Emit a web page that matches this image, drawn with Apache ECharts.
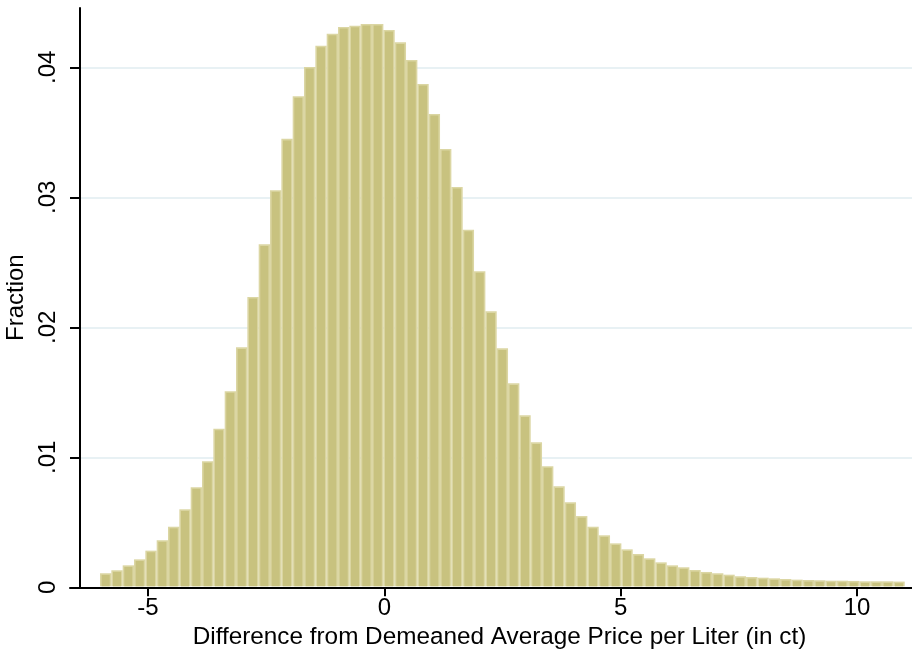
<!DOCTYPE html>
<html>
<head>
<meta charset="utf-8">
<title>Price difference histogram</title>
<script src="https://cdn.jsdelivr.net/npm/echarts@6/dist/echarts.min.js"></script>
<style>
  html, body { margin: 0; padding: 0; background: #ffffff; }
  #chart { width: 912px; height: 652px; }
</style>
</head>
<body>
<div id="chart"></div>
<script>
// Histogram bins: first bin's left edge and common bin width (in ct)
const binStart = -6.015;
const binWidth = 0.23976;

// Fraction of observations in each bin, left to right
const fractions = [
  0.00108, 0.00131, 0.00169, 0.00215, 0.00282, 0.00362, 0.00466, 0.00600, 0.00770, 0.00970,
  0.01220, 0.01508, 0.01846, 0.02233, 0.02638, 0.03054, 0.03450, 0.03777, 0.04002, 0.04166,
  0.04258, 0.04310, 0.04320, 0.04333, 0.04333, 0.04287, 0.04192, 0.04056, 0.03872, 0.03641,
  0.03372, 0.03079, 0.02751, 0.02431, 0.02123, 0.01838, 0.01569, 0.01323, 0.01115, 0.00931,
  0.00777, 0.00654, 0.00548, 0.00466, 0.00400, 0.00338, 0.00292, 0.00256, 0.00223, 0.00192,
  0.00169, 0.00154, 0.00133, 0.00118, 0.00108, 0.00097, 0.00085, 0.00079, 0.00074, 0.00069,
  0.00064, 0.00059, 0.00056, 0.00054, 0.00051, 0.00051, 0.00049, 0.00046, 0.00046, 0.00046,
  0.00044
];

// Axis ticks and labels
const xTicks = [-5, 0, 5, 10];
const yTicks = [0, 0.01, 0.02, 0.03, 0.04];
const yTickLabels = ['0', '.01', '.02', '.03', '.04'];

const xTitle = 'Difference from Demeaned Average Price per Liter (in ct)';
const yTitle = 'Fraction';

// [left edge, right edge, fraction] per bin
const binData = fractions.map((f, i) => [
  binStart + i * binWidth,
  binStart + (i + 1) * binWidth,
  f
]);

const FONT = '"Liberation Sans", Arial, Helvetica, sans-serif';
const BAR_FILL = '#c8c27f';
const BAR_EDGE = '#dbd6a3';
const INSET = 1.6;

const chart = echarts.init(document.getElementById('chart'), null, { renderer: 'canvas' });

chart.setOption({
  backgroundColor: '#ffffff',
  animation: false,
  grid: { left: 70, right: 0, top: 8, bottom: 64.7, containLabel: false, outerBoundsMode: 'none' },
  xAxis: {
    type: 'value',
    min: -6.650,
    max: 11.162,
    name: xTitle,
    nameLocation: 'middle',
    nameGap: 35,
    nameTextStyle: { fontFamily: FONT, fontSize: 24.3, color: '#000', lineHeight: 24, padding: [0, 0, 0, 17] },
    axisLine: { show: true, onZero: false, lineStyle: { color: '#000', width: 2 } },
    axisTick: { show: true, length: 9, customValues: xTicks, lineStyle: { color: '#000', width: 2 } },
    axisLabel: {
      customValues: xTicks,
      margin: 9,
      fontFamily: FONT,
      fontSize: 24,
      lineHeight: 24,
      color: '#000',
      formatter: v => String(v)
    },
    splitLine: { show: false }
  },
  yAxis: {
    type: 'value',
    min: 0,
    max: 0.04456,
    offset: -10,
    name: yTitle,
    nameLocation: 'middle',
    nameGap: 41,
    nameTextStyle: { fontFamily: FONT, fontSize: 24, color: '#000', lineHeight: 24 },
    axisLine: { show: true, onZero: false, lineStyle: { color: '#000', width: 2 } },
    axisTick: { show: true, length: 10, customValues: yTicks, lineStyle: { color: '#000', width: 2 } },
    axisLabel: {
      customValues: yTicks,
      rotate: 90,
      margin: 20,
      fontFamily: FONT,
      fontSize: 24,
      lineHeight: 24,
      color: '#000',
      formatter: v => {
        const i = yTicks.findIndex(t => Math.abs(t - v) < 1e-9);
        return i >= 0 ? yTickLabels[i] : '';
      }
    },
    splitLine: { show: true, showMinLine: false, lineStyle: { color: '#e8f1f4', width: 2 } }
  },
  series: [{
    type: 'custom',
    data: binData,
    encode: { x: [0, 1], y: 2 },
    renderItem: (params, api) => {
      const lo = api.value(0), hi = api.value(1), f = api.value(2);
      const topLeft = api.coord([lo, f]);
      const bottomRight = api.coord([hi, 0]);
      const x = topLeft[0];
      const y = topLeft[1];
      const w = bottomRight[0] - topLeft[0];
      const h = bottomRight[1] - topLeft[1] - 1;
      return {
        type: 'group',
        children: [
          { type: 'rect', shape: { x, y, width: w, height: h }, style: { fill: BAR_EDGE } },
          {
            type: 'rect',
            shape: { x: x + INSET, y: y + INSET, width: Math.max(0, w - 2 * INSET), height: Math.max(0, h - INSET) },
            style: { fill: BAR_FILL }
          }
        ]
      };
    }
  }]
});
</script>
</body>
</html>
